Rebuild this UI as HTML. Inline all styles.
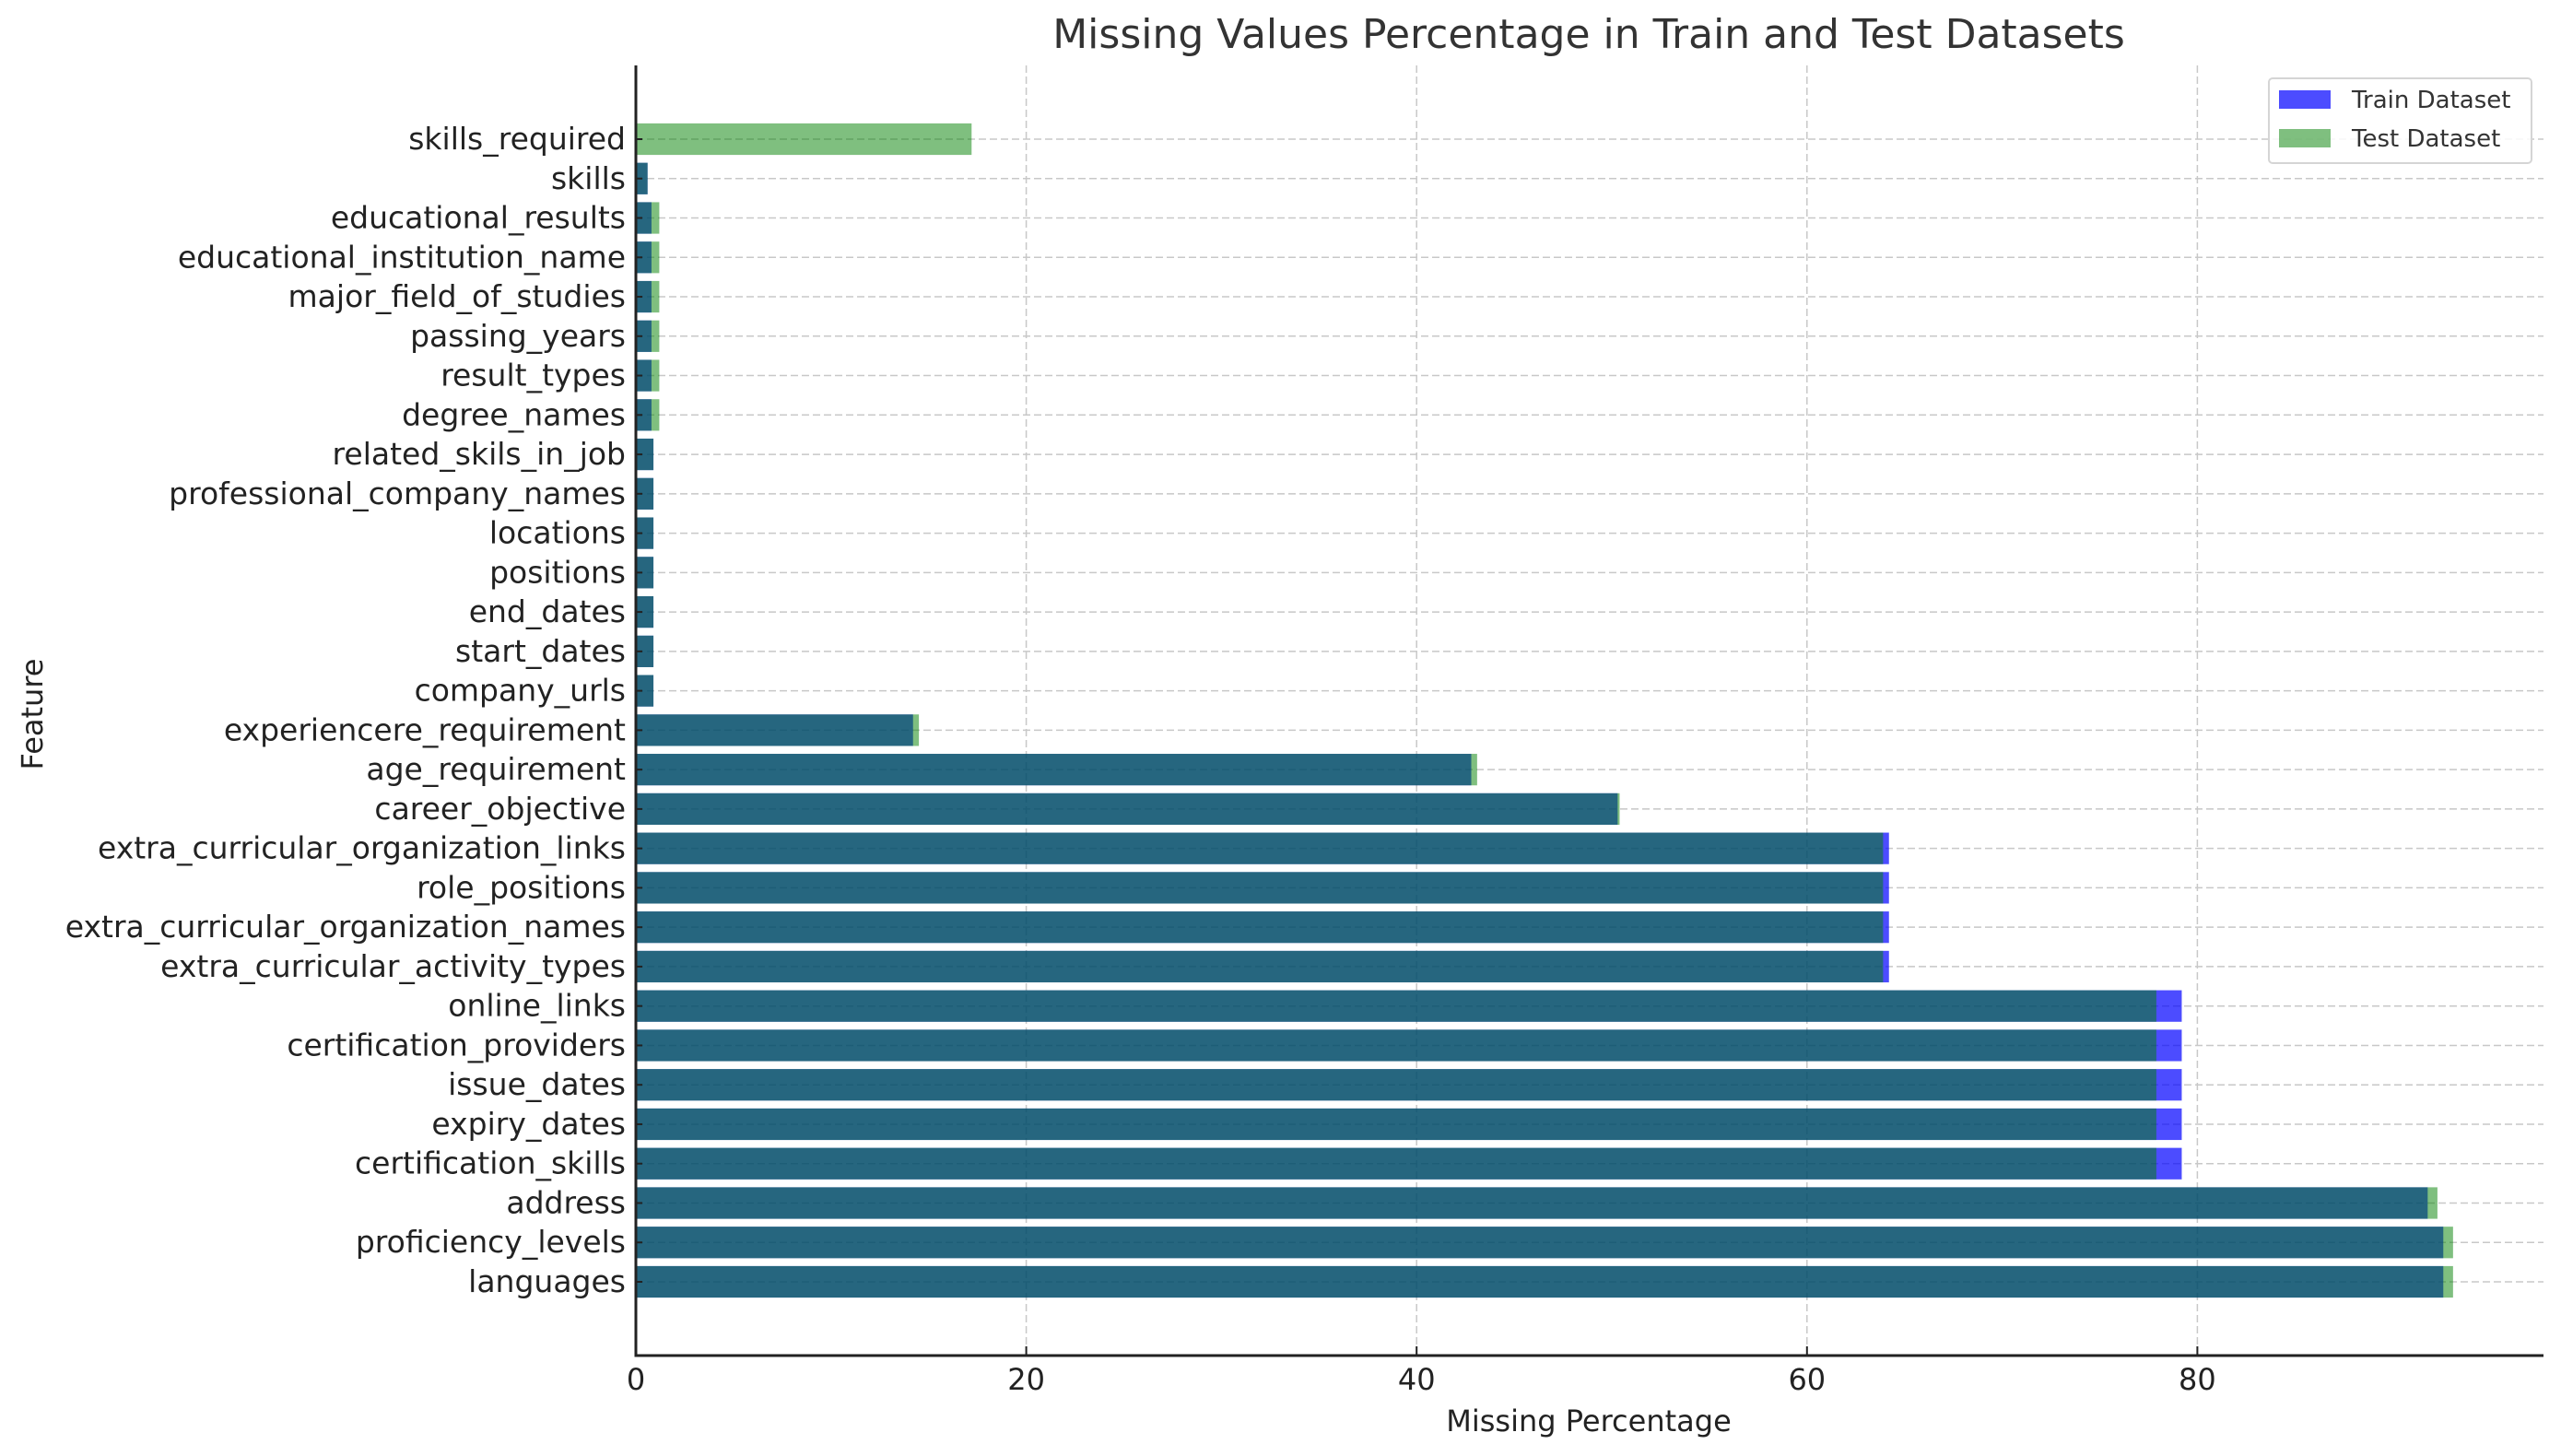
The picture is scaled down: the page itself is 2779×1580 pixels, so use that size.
<!DOCTYPE html>
<html><head><meta charset="utf-8">
<style>
html,body{margin:0;padding:0;background:#fff;}
svg{display:block;font-family:"DejaVu Sans","Liberation Sans",sans-serif;}
</style></head>
<body>
<svg id="chart" width="2779" height="1580" viewBox="0 0 2779 1580" xmlns="http://www.w3.org/2000/svg">
<text x="1724" y="52" font-size="44" fill="#333" text-anchor="middle">Missing Values Percentage in Train and Test Datasets</text>
<g id="grid"></g>
<g id="bars"></g>
<g id="axes"></g>
<text x="1724" y="1553" font-size="32" fill="#222" text-anchor="middle">Missing Percentage</text>
<text x="0" y="0" font-size="32" fill="#222" text-anchor="middle" transform="translate(46,775) rotate(-90)">Feature</text>
<g>
<rect x="2462" y="85" width="285" height="92" rx="4" fill="#fff" fill-opacity="0.85" stroke="#d5d5d5" stroke-width="2"/>
<g>
<rect x="2473" y="98" width="56" height="20" fill="#0000ff" fill-opacity="0.7"/>
<text x="2552" y="117" font-size="26" fill="#333">Train Dataset</text></g>
<g>
<rect x="2473" y="140" width="56" height="20" fill="#008000" fill-opacity="0.5"/>
<text x="2552" y="159" font-size="26" fill="#333">Test Dataset</text></g>
</g>
</svg>
<script>
const categories = ["skills_required","skills","educational_results","educational_institution_name","major_field_of_studies","passing_years","result_types","degree_names","related_skils_in_job","professional_company_names","locations","positions","end_dates","start_dates","company_urls","experiencere_requirement","age_requirement","career_objective","extra_curricular_organization_links","role_positions","extra_curricular_organization_names","extra_curricular_activity_types","online_links","certification_providers","issue_dates","expiry_dates","certification_skills","address","proficiency_levels","languages"];
const trainValues = [0,0.6,0.8,0.8,0.8,0.8,0.8,0.8,0.9,0.9,0.9,0.9,0.9,0.9,0.9,14.2,42.8,50.3,64.2,64.2,64.2,64.2,79.2,79.2,79.2,79.2,79.2,91.8,92.6,92.6];
const testValues = [17.2,0.6,1.2,1.2,1.2,1.2,1.2,1.2,0.9,0.9,0.9,0.9,0.9,0.9,0.9,14.5,43.1,50.4,63.9,63.9,63.9,63.9,77.9,77.9,77.9,77.9,77.9,92.3,93.1,93.1];
const xTicks = [0,20,40,60,80];

const NS="http://www.w3.org/2000/svg";
const X0=690, UNIT=21.18, AX_RIGHT=2760, AX_TOP=71, AX_BOTTOM=1471;
const Y0=151, YN=1391;
const n=categories.length;
const rowStep=(YN-Y0)/(n-1);
const BH=rowStep*0.8;
function xs(v){return X0+v*UNIT;}
function ys(i){return Y0+i*rowStep;}
function mk(tag,attrs,parent){const e=document.createElementNS(NS,tag);for(const k in attrs)e.setAttribute(k,attrs[k]);parent.appendChild(e);return e;}
const grid=document.getElementById('grid'), bars=document.getElementById('bars'), axes=document.getElementById('axes');
xTicks.forEach(t=>{
  const l=mk('line',{x1:xs(t),x2:xs(t),y1:AX_TOP,y2:AX_BOTTOM,stroke:'#c8c8c8','stroke-width':1.5,'stroke-dasharray':'8,4'},grid);
  
  
});
categories.forEach((c,i)=>{
  const l=mk('line',{x1:X0,x2:AX_RIGHT,y1:ys(i),y2:ys(i),stroke:'#c8c8c8','stroke-width':1.5,'stroke-dasharray':'8,4'},grid);
  
  
});
categories.forEach((c,i)=>{
  const r=mk('rect',{x:X0,y:ys(i)-BH/2,width:Math.max(0,xs(trainValues[i])-X0),height:BH,fill:'#0000ff','fill-opacity':0.7},bars);
  
  
});
categories.forEach((c,i)=>{
  const r=mk('rect',{x:X0,y:ys(i)-BH/2,width:Math.max(0,xs(testValues[i])-X0),height:BH,fill:'#008000','fill-opacity':0.5},bars);
  
  
});
const la=mk('line',{x1:X0,x2:X0,y1:AX_TOP,y2:AX_BOTTOM,stroke:'#222','stroke-width':3},axes);


const ba=mk('line',{x1:X0-1.5,x2:AX_RIGHT,y1:AX_BOTTOM,y2:AX_BOTTOM,stroke:'#222','stroke-width':3},axes);


xTicks.forEach(t=>{
  const tk=mk('line',{x1:xs(t),x2:xs(t),y1:AX_BOTTOM-10,y2:AX_BOTTOM,stroke:'#222','stroke-width':2},axes);
  
  
  const tx=mk('text',{x:xs(t),y:1508,'font-size':32,fill:'#222','text-anchor':'middle'},axes);
  tx.textContent=t;
  
  
});
categories.forEach((c,i)=>{
  const tk=mk('line',{x1:X0,x2:X0+7,y1:ys(i),y2:ys(i),stroke:'#222','stroke-width':2},axes);
  
  
  const tx=mk('text',{x:679,y:ys(i)+11,'font-size':33,fill:'#222','text-anchor':'end'},axes);
  tx.textContent=c;
  
  
});
</script>
</body></html>
